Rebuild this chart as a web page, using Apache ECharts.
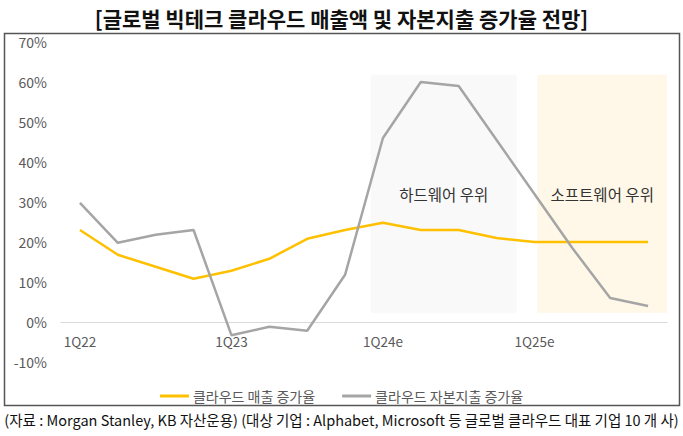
<!DOCTYPE html>
<html>
<head>
<meta charset="utf-8">
<script src="https://cdn.jsdelivr.net/npm/echarts@6/dist/echarts.min.js"></script>
<style>
html,body{margin:0;padding:0;background:#fff;}
#c{width:683px;height:436px;}
</style>
</head>
<body>
<div id="c"></div>
<script>
var categories = ['1Q22','2Q22','3Q22','4Q22','1Q23','2Q23','3Q23','4Q23','1Q24e','2Q24e','3Q24e','4Q24e','1Q25e','2Q25e','3Q25e','4Q25e'];
var revenueGrowth = [23, 16.8, 13.8, 10.8, 12.8, 15.8, 20.8, 23, 24.8, 23, 23, 21, 20, 20, 20, 20];
var capexGrowth = [29.8, 19.8, 21.8, 23, -3.3, -1.2, -2.2, 11.8, 46, 60, 59, 45.5, 32, 18.5, 6, 4];
var yTicks = [-10, 0, 10, 20, 30, 40, 50, 60, 70];
var seriesNames = ['클라우드 매출 증가율', '클라우드 자본지출 증가율'];
var regionLabels = ['하드웨어 우위', '소프트웨어 우위'];
// region extents in category-index units and y-values
var regionX = [[7.68, 11.53], [12.08, 15.65]];
var regionY = [2.3, 61.8];

var FONT = '"Noto Sans CJK KR", "Noto Sans", sans-serif';
var chart = echarts.init(document.getElementById('c'), null, {renderer: 'svg'});
chart.setOption({
  animation: false,
  textStyle: {fontFamily: FONT},
  title: {
    text: '[글로벌 빅테크 클라우드 매출액 및 자본지출 증가율 전망]',
    left: 'center', top: 2,
    textStyle: {fontFamily: FONT, fontSize: 21, fontWeight: 'bold', color: '#111'}
  },
  graphic: [
    {type: 'rect', shape: {x: 4.5, y: 33.5, width: 675, height: 372}, style: {fill: 'none', stroke: '#555', lineWidth: 1.5}, silent: true},
    {type: 'text', left: 'center', top: 412,
     style: {text: '(자료 : Morgan Stanley, KB 자산운용) (대상 기업 : Alphabet, Microsoft 등 글로벌 클라우드 대표 기업 10 개 사)',
             font: '14.5px ' + FONT, fill: '#111'}}
  ],
  legend: {
    data: seriesNames,
    left: 'center', top: 384,
    icon: 'rect', itemWidth: 29, itemHeight: 3, itemGap: 27,
    textStyle: {fontFamily: FONT, fontSize: 14, color: '#595959', padding: [0,0,0,-1]}
  },
  grid: {left: 61, right: 16, top: 42, bottom: 74},
  xAxis: [
    {type: 'category', data: categories, boundaryGap: true, position: 'bottom',
     axisLine: {onZero: true, lineStyle: {color: '#d9d9d9', width: 1}},
     axisTick: {show: false},
     axisLabel: {interval: 3, color: '#595959', fontSize: 13.5, margin: -28, fontFamily: FONT}},
    {type: 'value', min: -0.5, max: 15.5, show: false, position: 'top'}
  ],
  yAxis: {
    type: 'value', min: yTicks[0], max: yTicks[yTicks.length-1], interval: 10,
    splitLine: {show: false}, axisLine: {show: false}, axisTick: {show: false},
    axisLabel: {formatter: '{value}%', color: '#595959', fontSize: 14, margin: 14, fontFamily: FONT}
  },
  series: [
    {name: seriesNames[0], type: 'line', data: revenueGrowth, symbol: 'none', z: 2,
     lineStyle: {color: '#FFC000', width: 2.5}, itemStyle: {color: '#FFC000'}},
    {name: seriesNames[1], type: 'line', data: capexGrowth, symbol: 'none', z: 2,
     lineStyle: {color: '#A5A5A5', width: 2.5}, itemStyle: {color: '#A5A5A5'}},
    {type: 'line', xAxisIndex: 1, data: [], z: 5, silent: true,
     markArea: {
       silent: true,
       label: {position: 'inside', fontSize: 15.5, color: '#333', fontFamily: FONT},
       data: [
         [{name: regionLabels[0], xAxis: regionX[0][0], yAxis: regionY[0], itemStyle: {color: 'rgba(237,237,237,0.36)'}}, {xAxis: regionX[0][1], yAxis: regionY[1]}],
         [{name: regionLabels[1], xAxis: regionX[1][0], yAxis: regionY[0], itemStyle: {color: 'rgba(255,236,190,0.36)'}}, {xAxis: regionX[1][1], yAxis: regionY[1]}]
       ]
     }}
  ]
});
</script>
</body>
</html>
